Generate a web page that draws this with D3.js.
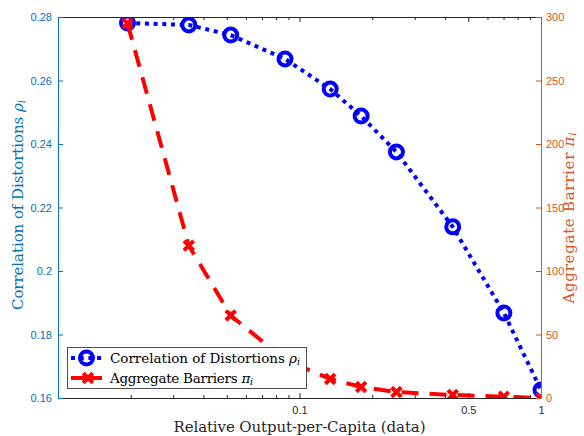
<!DOCTYPE html>
<html><head><meta charset="utf-8">
<script src="https://cdn.jsdelivr.net/npm/d3@7"></script>
<style>body{margin:0;background:#fff}svg{display:block}</style>
</head><body>
<script>
const xData   = [0.0194, 0.0348, 0.0519, 0.0871, 0.134, 0.180, 0.252, 0.431, 0.702, 1.0];
const rhoData = [0.2781, 0.2775, 0.2743, 0.2668, 0.2573, 0.2488, 0.2375, 0.2139, 0.1868, 0.1625];
const piData  = [295, 120, 65, 30, 15, 8.7, 4.7, 2.4, 1.0, 0.0];
const xTicks = [0.1, 0.5, 1];
const xMinor = [0.02,0.03,0.04,0.05,0.06,0.07,0.08,0.09,0.2,0.3,0.4,0.6,0.7,0.8,0.9];
const leftTicks = [0.16,0.18,0.2,0.22,0.24,0.26,0.28];
const rightTicks = [0,50,100,150,200,250,300];

(function(){
const W=584,H=436, L=58, R=541, T=17, B=398;
const blueAx="#0072BD", orangeAx="#D95319", dark="#262626";
const svg=d3.select("body").append("svg").attr("width",W).attr("height",H);
const x=d3.scaleLog().domain([0.01,1]).range([L,R]);
const yL=d3.scaleLinear().domain([0.16,0.28]).range([B,T]);
const yR=d3.scaleLinear().domain([0,300]).range([B,T]);
const fnt="'Liberation Sans', Arial, sans-serif";
const serif="'DejaVu Serif','Liberation Serif',serif";

svg.append("defs").append("clipPath").attr("id","clip").append("rect")
  .attr("x",L).attr("y",T).attr("width",R-L).attr("height",B-T);

const bot=svg.append("g").attr("transform",`translate(0,${B})`)
  .call(d3.axisBottom(x).tickValues(xTicks).tickSizeInner(-5).tickSizeOuter(0).tickPadding(8).tickFormat(d3.format("")));
bot.select(".domain").attr("stroke",dark);
bot.selectAll(".tick line").attr("stroke",dark);
bot.selectAll("text").attr("fill",dark).style("font-family",fnt).style("font-size","11px");
const botM=svg.append("g").attr("transform",`translate(0,${B})`)
  .call(d3.axisBottom(x).tickValues(xMinor).tickSizeInner(-3).tickSizeOuter(0).tickFormat(""));
botM.select(".domain").remove(); botM.selectAll(".tick line").attr("stroke",dark);

const topA=svg.append("g").attr("transform",`translate(0,${T})`)
  .call(d3.axisTop(x).tickValues(xTicks).tickSizeInner(-5).tickSizeOuter(0).tickFormat(""));
topA.select(".domain").attr("stroke",dark); topA.selectAll(".tick line").attr("stroke",dark);
const topM=svg.append("g").attr("transform",`translate(0,${T})`)
  .call(d3.axisTop(x).tickValues(xMinor).tickSizeInner(-3).tickSizeOuter(0).tickFormat(""));
topM.select(".domain").remove(); topM.selectAll(".tick line").attr("stroke",dark);

const la=svg.append("g").attr("transform",`translate(${L},0)`)
  .call(d3.axisLeft(yL).tickValues(leftTicks).tickSizeInner(-5).tickSizeOuter(0).tickPadding(6).tickFormat(d3.format("")));
la.select(".domain").attr("stroke",blueAx);
la.selectAll(".tick line").attr("stroke",blueAx);
la.selectAll("text").attr("fill",blueAx).style("font-family",fnt).style("font-size","11px");
const ra=svg.append("g").attr("transform",`translate(${R},0)`)
  .call(d3.axisRight(yR).tickValues(rightTicks).tickSizeInner(-5).tickSizeOuter(0).tickPadding(5).tickFormat(d3.format("")));
ra.select(".domain").attr("stroke",orangeAx);
ra.selectAll(".tick line").attr("stroke",orangeAx);
ra.selectAll("text").attr("fill",orangeAx).style("font-family",fnt).style("font-size","11px");

const g=svg.append("g").attr("clip-path","url(#clip)");
const idx=d3.range(xData.length);
const lineB=d3.line().x(i=>x(xData[i])).y(i=>yL(rhoData[i]));
const lineR=d3.line().x(i=>x(xData[i])).y(i=>yR(piData[i]));
g.append("path").attr("d",lineB(idx)).attr("fill","none").attr("stroke","#0000FF")
  .attr("stroke-width",4).attr("stroke-dasharray","4,4.7");
g.selectAll("circle.b").data(idx).join("circle").attr("cx",i=>x(xData[i])).attr("cy",i=>yL(rhoData[i]))
  .attr("r",6.5).attr("fill","none").attr("stroke","#0000FF").attr("stroke-width",4);
g.append("path").attr("d",lineR(idx)).attr("fill","none").attr("stroke","#FF0000")
  .attr("stroke-width",4).attr("stroke-dasharray","17,11");
const xm=(sel,px,py,s)=>{sel.append("path").attr("d",`M${px-s},${py-s}L${px+s},${py+s}M${px-s},${py+s}L${px+s},${py-s}`)
  .attr("stroke","#FF0000").attr("stroke-width",4).attr("fill","none");};
idx.forEach(i=>xm(g,x(xData[i]),yR(piData[i]),4.8));

const lg=svg.append("g");
lg.append("rect").attr("x",67.5).attr("y",347.5).attr("width",239).attr("height",41)
  .attr("fill","#fff").attr("stroke",dark).attr("stroke-width",0.8);
lg.append("line").attr("x1",71).attr("x2",102).attr("y1",358).attr("y2",358).attr("stroke","#0000FF")
  .attr("stroke-width",4).attr("stroke-dasharray","4,4.7");
lg.append("circle").attr("cx",86.5).attr("cy",358).attr("r",6.5).attr("fill","none").attr("stroke","#0000FF").attr("stroke-width",4);
lg.append("line").attr("x1",71).attr("x2",102).attr("y1",378).attr("y2",378).attr("stroke","#FF0000").attr("stroke-width",4);
xm(lg,88,378,4.8);
function lab(sel,main,greek){
  sel.append("tspan").text(main);
  sel.append("tspan").style("font-style","italic").text(greek);
  sel.append("tspan").style("font-style","italic").style("font-size","0.7em").attr("dy","0.2em").text("i");
  return sel;
}
lab(lg.append("text").attr("x",110).attr("y",363).attr("fill","#000").style("font-family",serif).style("font-size","13.5px")
  .attr("textLength",190).attr("lengthAdjust","spacing"),"Correlation of Distortions ","ρ");
lab(lg.append("text").attr("x",110).attr("y",383).attr("fill","#000").style("font-family",serif).style("font-size","13.5px")
  .attr("textLength",143).attr("lengthAdjust","spacing"),"Aggregate Barriers ","π");

svg.append("text").attr("x",(L+R)/2).attr("y",432).attr("text-anchor","middle").attr("fill",dark)
  .style("font-family",serif).style("font-size","15px").attr("textLength",252).attr("lengthAdjust","spacing")
  .text("Relative Output-per-Capita (data)");
lab(svg.append("text").attr("transform",`translate(23,205) rotate(-90)`).attr("text-anchor","middle")
  .attr("fill",blueAx).style("font-family",serif).style("font-size","15px").attr("textLength",210).attr("lengthAdjust","spacing"),
  "Correlation of Distortions ","ρ");
lab(svg.append("text").attr("transform",`translate(574,218) rotate(-90)`).attr("text-anchor","middle")
  .attr("fill",orangeAx).style("font-family",serif).style("font-size","15px").attr("textLength",171).attr("lengthAdjust","spacing"),
  "Aggregate Barrier ","π");
})();
</script>
</body></html>
